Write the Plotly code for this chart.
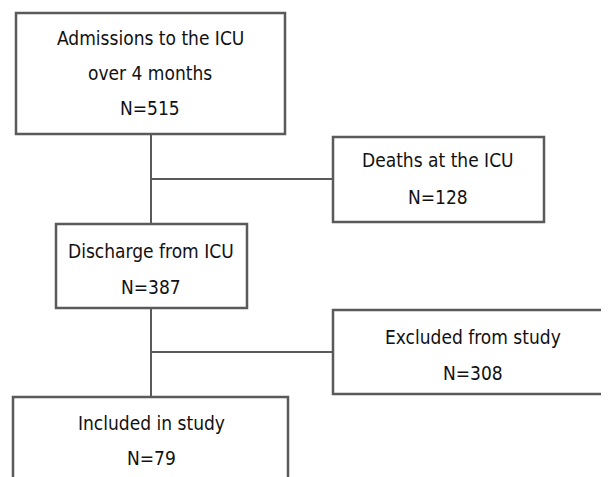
import plotly.graph_objects as go

# Data
stages = ["Admissions to the ICU<br>over 4 months", "Deaths at the ICU", "Discharge from ICU",
          "Excluded from study", "Included in study"]
counts = [515, 128, 387, 308, 79]

# Layout (pixel-like coordinates of boxes: x0, x1, y0, y1)
boxes = [(16, 285, 13, 134), (333, 544, 137, 222), (56, 247, 224, 308),
         (333, 630, 310, 394), (13, 288, 397, 490)]
text_lines_y = [[38, 73, 108], [160, 197], [251, 287], [337, 373], [423, 458]]
text_x = [150, 438, 151, 473, 151]

LINE = "#5a5a5a"
FONT = "DejaVu Sans Condensed, Liberation Sans Narrow, sans-serif"

fig = go.Figure()
shapes = []
for (x0, x1, y0, y1) in boxes:
    shapes.append(dict(type="rect", x0=x0, x1=x1, y0=y0, y1=y1,
                       line=dict(color=LINE, width=2.5), fillcolor="white", layer="below"))
# connectors
spine_x = 151
shapes += [
    dict(type="line", x0=spine_x, x1=spine_x, y0=134, y1=224, line=dict(color=LINE, width=2)),
    dict(type="line", x0=spine_x, x1=333, y0=179, y1=179, line=dict(color=LINE, width=2)),
    dict(type="line", x0=spine_x, x1=spine_x, y0=308, y1=397, line=dict(color=LINE, width=2)),
    dict(type="line", x0=spine_x, x1=333, y0=352, y1=352, line=dict(color=LINE, width=2)),
]

annotations = []
for label, n, ys, tx in zip(stages, counts, text_lines_y, text_x):
    parts = label.split("<br>") + [f"N={n}"]
    for part, y in zip(parts, ys):
        annotations.append(dict(x=tx, y=y, text=part, showarrow=False, xanchor="center",
                                yanchor="middle", font=dict(family=FONT, size=19, color="#111111")))

fig.update_layout(
    width=609, height=477, margin=dict(l=0, r=0, t=0, b=0),
    paper_bgcolor="white", plot_bgcolor="white",
    xaxis=dict(range=[8, 617], visible=False, fixedrange=True),
    yaxis=dict(range=[485, 8], visible=False, fixedrange=True),
    shapes=shapes, annotations=annotations, showlegend=False,
)
fig.write_html("out.html")
